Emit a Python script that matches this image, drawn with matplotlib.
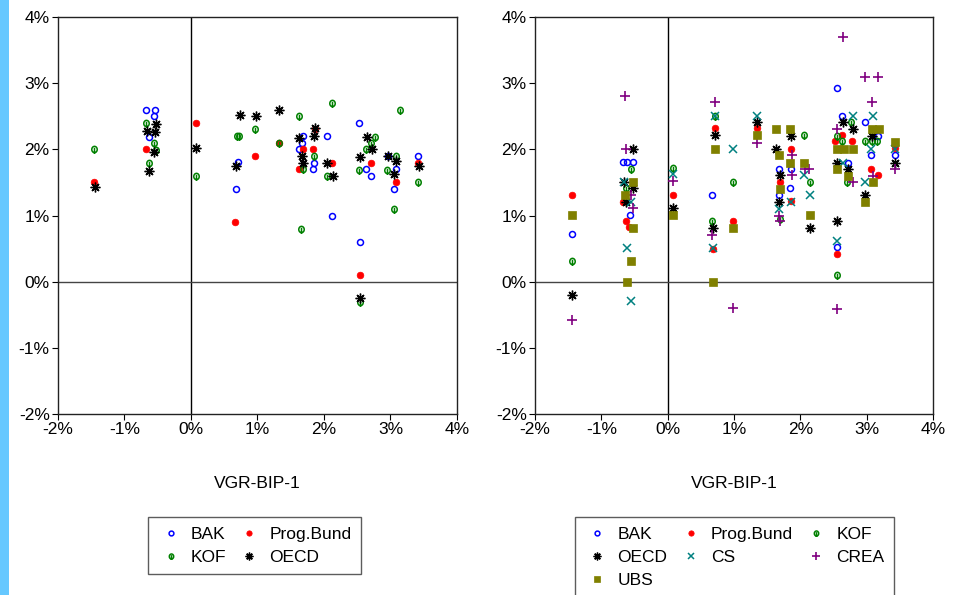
import numpy as np
import matplotlib
matplotlib.use("Agg")
import matplotlib.pyplot as plt
from matplotlib.path import Path
from matplotlib.patches import Rectangle

plt.rcParams['font.family'] = ['Liberation Sans', 'DejaVu Sans']

# ---- panel (a) data: x = VGR-BIP-1 growth [%], y = forecast [%]
bak_a_x = [-0.67, -0.54, -0.55, -0.63, 0.70, 0.67, 1.68, 1.67, 1.63, 2.04, 1.85, 1.84, 2.12, 2.53, 2.54, 2.63, 2.71, 2.96, 3.08, 3.06, 3.41]
bak_a_y = [2.6, 2.6, 2.5, 2.19, 1.81, 1.4, 2.2, 2.1, 2.0, 2.2, 1.8, 1.7, 1.0, 2.4, 0.6, 1.7, 1.6, 1.9, 1.7, 1.4, 1.9]

prog_a_x = [-1.46, -0.67, 0.08, 0.66, 0.97, 1.32, 1.87, 1.68, 1.84, 1.62, 2.12, 2.54, 2.71, 3.08, 3.42]
prog_a_y = [1.5, 2.0, 2.4, 0.9, 1.9, 2.1, 2.3, 2.0, 2.0, 1.7, 1.8, 0.1, 1.8, 1.5, 1.8]

kof_a_x = [-1.46, -0.67, -0.55, -0.53, -0.63, 0.08, 0.69, 0.72, 0.97, 1.32, 1.62, 1.66, 1.68, 1.85, 2.04, 2.12, 2.53, 2.54, 2.63, 2.71, 2.76, 2.95, 3.06, 3.08, 3.14, 3.41]
kof_a_y = [2.0, 2.4, 2.1, 1.99, 1.8, 1.6, 2.2, 2.2, 2.3, 2.1, 2.5, 0.8, 1.7, 1.9, 1.59, 2.7, 1.69, -0.31, 2.0, 2.1, 2.19, 1.69, 1.1, 1.9, 2.6, 1.5]

oecd_a_x = [-1.45, -0.53, -0.66, -0.54, -0.56, -0.63, 0.08, 0.68, 0.74, 0.98, 1.33, 1.63, 1.67, 1.69, 1.85, 1.87, 2.05, 2.14, 2.54, 2.54, 2.64, 2.72, 2.96, 3.06, 3.08, 3.43]
oecd_a_y = [1.43, 2.39, 2.27, 2.26, 1.96, 1.68, 2.02, 1.75, 2.52, 2.51, 2.6, 2.17, 1.9, 1.79, 2.2, 2.33, 1.79, 1.59, 1.88, -0.24, 2.19, 2.01, 1.9, 1.63, 1.83, 1.75]

# ---- panel (b) data
bak_b_x = [-1.45, -0.67, -0.61, -0.53, -0.57, 0.67, 1.68, 1.68, 1.86, 1.85, 2.55, 2.63, 2.97, 3.17, 3.07, 2.72, 2.56, 3.43]
bak_b_y = [0.72, 1.81, 1.81, 1.81, 1.01, 1.31, 1.71, 1.31, 1.71, 1.41, 2.92, 2.51, 2.42, 2.2, 1.91, 1.8, 0.52, 1.91]

prog_b_x = [-1.45, -0.67, -0.63, -0.58, 0.08, 0.71, 0.68, 0.98, 1.34, 1.69, 1.86, 1.86, 2.53, 2.63, 2.78, 2.56, 3.07, 3.17, 3.43]
prog_b_y = [1.31, 1.21, 0.92, 0.82, 1.31, 2.32, 0.5, 0.92, 2.32, 1.51, 1.22, 2.0, 2.12, 2.21, 2.12, 0.42, 1.71, 1.61, 2.02]

kof_b_x = [-1.45, -0.55, -0.63, 0.08, 0.71, 0.67, 0.98, 1.69, 2.06, 2.15, 2.55, 2.63, 2.77, 2.71, 2.97, 3.08, 3.16, 2.55]
kof_b_y = [0.32, 1.71, 1.41, 1.72, 2.5, 0.92, 1.51, 0.94, 2.21, 1.51, 2.2, 2.12, 2.42, 1.51, 2.12, 2.12, 2.12, 0.1]

oecd_b_x = [-1.45, -0.52, -0.66, -0.53, -0.63, 0.08, 0.71, 0.68, 1.34, 1.64, 1.69, 1.68, 1.86, 2.15, 2.65, 2.79, 3.08, 2.55, 2.72, 2.97, 2.56, 3.43]
oecd_b_y = [-0.2, 2.0, 1.51, 1.41, 1.21, 1.11, 2.21, 0.81, 2.41, 2.0, 1.61, 1.2, 2.2, 0.81, 2.41, 2.3, 2.2, 1.8, 1.71, 1.31, 0.91, 1.8]

cs_b_x = [-0.66, -0.56, -0.62, -0.55, 0.08, 0.71, 0.68, 0.99, 1.34, 1.68, 1.86, 2.06, 2.15, 2.79, 3.10, 3.07, 2.65, 2.97, 2.56, 3.43]
cs_b_y = [1.51, 1.21, 0.51, -0.29, 1.62, 2.51, 0.51, 2.0, 2.51, 1.1, 1.21, 1.61, 1.31, 2.51, 2.51, 2.0, 1.8, 1.5, 0.61, 2.0]

crea_b_x = [-1.45, -0.65, -0.63, -0.55, -0.52, 0.08, 0.71, 0.67, 0.99, 1.34, 1.68, 1.69, 1.87, 1.87, 2.07, 2.13, 2.55, 2.65, 2.97, 3.17, 3.08, 2.80, 3.10, 2.55, 3.43]
crea_b_y = [-0.58, 2.81, 2.0, 1.31, 1.11, 1.52, 2.71, 0.71, -0.4, 2.1, 1.0, 0.91, 1.91, 1.61, 1.71, 1.71, 2.3, 3.7, 3.1, 3.1, 2.71, 1.51, 1.6, -0.41, 1.71]

ubs_b_x = [-1.45, -0.65, -0.52, -0.53, -0.55, -0.62, 0.08, 0.71, 0.68, 0.99, 1.34, 1.63, 1.85, 1.68, 1.85, 2.06, 1.69, 2.15, 2.56, 2.66, 2.79, 3.08, 3.18, 2.56, 2.72, 3.10, 2.97, 3.43]
ubs_b_y = [1.01, 1.31, 1.51, 0.81, 0.31, 0.0, 1.01, 2.0, 0.0, 0.81, 2.21, 2.3, 2.3, 1.91, 1.8, 1.8, 1.4, 1.01, 2.0, 2.0, 2.0, 2.3, 2.3, 1.7, 1.6, 1.5, 1.2, 2.11]

x_ticks = [-2, -1, 0, 1, 2, 3, 4]
y_ticks = [-2, -1, 0, 1, 2, 3, 4]

# KOF glyph: circle with a vertical stem
circ = Path.unit_circle()
circ = Path(circ.vertices * [0.95, 1.1], circ.codes)
stem = Path([(0, -1.5), (0, 0.6)], [Path.MOVETO, Path.LINETO])
kof_marker = Path.make_compound_path(circ, stem)

styles = {
    'BAK': dict(marker='o', color='#0000ff', mfc='none', ms=4.3, mew=1.1),
    'Prog.Bund': dict(marker='o', color='#ff0000', mfc='#ff0000', mec='#ff0000', ms=4.8, mew=0.5),
    'KOF': dict(marker=kof_marker, color='#008000', mfc='none', ms=6.2, mew=1.1),
    'OECD': dict(marker=(8, 2, 0), color='black', ms=7, mew=1.0),
    'CS': dict(marker='x', color='#008080', ms=5.5, mew=1.1),
    'CREA': dict(marker='+', color='#800080', ms=6.5, mew=1.2),
    'UBS': dict(marker='s', color='#808000', mfc='#808000', mec='#808000', ms=5.5, mew=0.5),
}

fig = plt.figure(figsize=(9.58, 5.95), dpi=100)
fig.patches.append(Rectangle((0, 0), 9 / 958, 1, transform=fig.transFigure,
                             facecolor='#66c8ff', edgecolor='none'))

ax1 = fig.add_axes([0.0605, 0.3042, 0.4165, 0.6672])
ax2 = fig.add_axes([0.5585, 0.3042, 0.4154, 0.6672])

panel_a = [('BAK', bak_a_x, bak_a_y), ('Prog.Bund', prog_a_x, prog_a_y),
           ('KOF', kof_a_x, kof_a_y), ('OECD', oecd_a_x, oecd_a_y)]
panel_b = [('BAK', bak_b_x, bak_b_y), ('Prog.Bund', prog_b_x, prog_b_y),
           ('KOF', kof_b_x, kof_b_y), ('OECD', oecd_b_x, oecd_b_y),
           ('CS', cs_b_x, cs_b_y), ('CREA', crea_b_x, crea_b_y),
           ('UBS', ubs_b_x, ubs_b_y)]

for ax, series in [(ax1, panel_a), (ax2, panel_b)]:
    ax.axvline(0, color='black', lw=1.0, zorder=1)
    ax.axhline(0, color='#444444', lw=1.0, zorder=1)
    handles = {}
    for name, xs, ys in series:
        h, = ax.plot(xs, ys, ls='none', label=name, zorder=3, **styles[name])
        handles[name] = h
    ax.set_xlim(-2, 4)
    ax.set_ylim(-2, 4)
    ax.set_xticks(x_ticks)
    ax.set_yticks(y_ticks)
    ax.set_xticklabels(['%d%%' % t for t in x_ticks])
    ax.set_yticklabels(['%d%%' % t for t in y_ticks])
    ax.tick_params(direction='out', length=4, width=0.8, labelsize=12.5,
                   top=False, right=False, pad=2)
    for sp in ax.spines.values():
        sp.set_linewidth(1.0)
        sp.set_color('#222222')
    ax.set_xlabel('VGR-BIP-1', fontsize=12.5, labelpad=28)
    ax.handles = handles

leg_kw = dict(loc='upper left', fontsize=12.5, frameon=True, fancybox=False,
              markerscale=0.8, handlelength=1.5, handletextpad=0.4,
              columnspacing=0.6, borderpad=0.55, labelspacing=0.45,
              borderaxespad=0)

h1 = ax1.handles
leg1 = fig.legend([h1['BAK'], h1['KOF'], h1['Prog.Bund'], h1['OECD']],
                  ['BAK', 'KOF', 'Prog.Bund', 'OECD'],
                  ncol=2, bbox_to_anchor=(0.1545, 0.131), **leg_kw)
leg1.get_frame().set_edgecolor('#333333')
leg1.get_frame().set_linewidth(1.0)

h2 = ax2.handles
order = ['BAK', 'OECD', 'UBS', 'Prog.Bund', 'CS', 'KOF', 'CREA']
leg2 = fig.legend([h2[n] for n in order], order,
                  ncol=3, bbox_to_anchor=(0.600, 0.131), **leg_kw)
leg2.get_frame().set_edgecolor('#333333')
leg2.get_frame().set_linewidth(1.0)

plt.savefig('out.png', dpi=100)
plt.close()
